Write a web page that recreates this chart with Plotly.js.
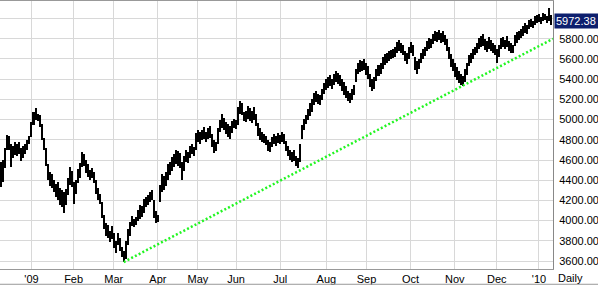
<!DOCTYPE html>
<html>
<head>
<meta charset="utf-8">
<script src="https://cdn.plot.ly/plotly-3.0.1.min.js"></script>
<style>html,body{margin:0;padding:0;background:#fff;}#chart{width:598px;height:286px;}</style>
</head>
<body>
<div id="chart"></div>
<script>
// Daily bars (high / low), Dec 9 2008 .. Jan 12 2010, UK trading days
const high = [
4580,4600,4720,4850,4840,4760,4740,4780,4760,
4780,4720,4740,4760,4800,4840,4980,5080,5115,5060,
5050,4960,4820,4720,4560,4480,4460,4400,4360,4380,
4320,4300,4280,4310,4420,4530,4490,4380,4400,
4510,4570,4680,4660,4600,4560,4500,4520,4480,4400,
4320,4260,4180,4060,3980,3960,3900,3950,3880,3800,
3880,3830,3740,3700,3800,3920,3990,4050,4020,
4040,4110,4150,4140,4210,4230,4250,4280,4300,4200,
4100,4060,4350,4460,4440,4480,4560,4580,4630,4660,
4700,4690,4670,4580,4640,4700,4680,4740,4760,
4730,4870,4900,4880,4900,4930,4880,4920,4940,4860,
4800,4780,4920,5000,5060,5020,4980,4960,4940,4990,
5010,5000,5120,5180,5160,5080,5090,5130,5110,
5090,5120,5060,4970,4920,4880,4860,4840,4800,4780,
4830,4860,4840,4870,4850,4880,4860,4790,4740,4700,
4680,4700,4640,4620,4760,4950,5010,5050,5100,
5160,5200,5260,5280,5250,5240,5300,5360,5400,5420,
5440,5400,5450,5480,5460,5440,5400,5370,5330,5280,
5260,5300,5340,5500,5560,5590,5580,5600,5560,
5530,5450,5400,5420,5500,5540,5560,5620,5650,5660,
5680,5690,5700,5720,5770,5790,5760,5740,5680,5660,
5720,5770,5740,5620,5580,5600,5660,5700,5720,
5780,5810,5800,5850,5880,5870,5890,5860,5880,5840,
5800,5720,5650,5600,5560,5520,5480,5450,5430,5500,
5560,5640,5660,5700,5720,5760,5810,5830,5850,
5800,5780,5820,5790,5760,5740,5700,5740,5810,5820,
5790,5830,5780,5760,5740,5840,5870,5880,5900,5930,
5960,5940,5990,6000,5980,6030,6040,6050,6020,
6060,6050,6030,6100,6040
];
const low = [
4330,4380,4520,4700,4700,4530,4620,4650,4640,
4660,4590,4620,4660,4700,4760,4830,4950,5000,4990,
4930,4800,4700,4540,4400,4340,4320,4280,4230,4200,
4150,4130,4080,4150,4250,4350,4330,4160,4260,
4370,4420,4530,4540,4470,4430,4400,4420,4370,4260,
4200,4160,4030,3920,3850,3830,3790,3820,3730,3680,
3760,3700,3640,3590,3620,3760,3850,3950,3940,
3960,4000,4020,4040,4080,4130,4150,4180,4200,4030,
3980,3990,4180,4280,4300,4340,4400,4450,4490,4530,
4560,4540,4520,4400,4490,4580,4570,4620,4660,
4640,4700,4780,4760,4800,4810,4780,4810,4820,4730,
4670,4690,4760,4880,4920,4900,4860,4830,4810,4870,
4920,4910,4950,5060,5050,4990,4980,5010,4990,
4970,5000,4940,4840,4800,4780,4770,4750,4690,4680,
4730,4760,4740,4770,4760,4780,4760,4690,4640,4600,
4580,4590,4540,4520,4580,4810,4900,4960,5000,
5040,5080,5140,5170,5150,5140,5190,5250,5290,5310,
5330,5300,5340,5370,5350,5330,5280,5240,5210,5180,
5160,5190,5240,5370,5450,5470,5480,5490,5440,
5400,5320,5280,5300,5380,5430,5450,5500,5540,5560,
5580,5600,5610,5620,5660,5680,5660,5640,5580,5550,
5600,5660,5630,5490,5450,5500,5560,5600,5630,
5680,5700,5710,5750,5780,5770,5790,5760,5770,5740,
5680,5600,5520,5480,5420,5390,5360,5340,5330,5370,
5440,5530,5560,5600,5640,5660,5700,5720,5730,
5690,5670,5700,5680,5660,5640,5560,5620,5700,5720,
5700,5720,5680,5660,5660,5730,5760,5790,5810,5830,
5860,5850,5900,5920,5910,5940,5960,5970,5950,
5980,5990,5960,5980,5940
];
const lastClose = 5972.38;
const startDate = '2008-12-09';
const holidays = ['2008-12-25','2008-12-26','2009-01-01','2009-04-10','2009-04-13',
  '2009-05-04','2009-05-25','2009-08-31','2009-12-25','2009-12-28','2010-01-01'];
const monthLabels = ["'09","Feb","Mar","Apr","May","Jun","Jul","Aug","Sep","Oct","Nov","Dec","'10"];
const priceTicks = [3600,3800,4000,4200,4400,4600,4800,5000,5200,5400,5600,5800,6000];
// green support trendline: from the March low to the right edge
const trendIdx = [61, 275];
const trendVal = [3590, 5800];

// trading-day calendar
const dates = [];
{
  const d = new Date(startDate + 'T00:00:00Z');
  while (dates.length < high.length) {
    const s = d.toISOString().slice(0, 10);
    const dow = d.getUTCDay();
    if (dow !== 0 && dow !== 6 && holidays.indexOf(s) < 0) dates.push(s);
    d.setUTCDate(d.getUTCDate() + 1);
  }
}
const idx = dates.map((_, i) => i);
const tickvals = [];
for (let i = 1; i < dates.length; i++) {
  if (dates[i].slice(5, 7) !== dates[i - 1].slice(5, 7)) tickvals.push(i);
}
// the top price label sits under the last-value box, so it is left blank
const priceText = priceTicks.map(v => (Math.abs(v - lastClose) < 100 ? '' : v.toFixed(2)));

const bars = {
  type: 'bar', x: idx, base: low, y: high.map((h, i) => h - low[i]),
  width: 1, marker: {color: '#000000', line: {width: 0}}, hoverinfo: 'skip'
};
const trend = {
  type: 'scatter', mode: 'lines', x: trendIdx, y: trendVal,
  line: {color: '#22f522', width: 2.5, dash: '2px,2.2px'}, hoverinfo: 'skip', cliponaxis: true
};

const font = {family: 'Liberation Sans, Arial, sans-serif', size: 11, color: '#000'};
const layout = {
  width: 598, height: 286,
  margin: {l: 0, r: 45, t: 1, b: 17, pad: 0},
  paper_bgcolor: '#ffffff', plot_bgcolor: '#ffffff',
  showlegend: false, bargap: 0, font: font,
  xaxis: {
    type: 'linear', range: [-0.7, 275], tickvals: tickvals, ticktext: monthLabels,
    showgrid: true, gridcolor: '#d8d8d8', gridwidth: 1, zeroline: false,
    showline: true, linecolor: '#999999', linewidth: 1, mirror: true,
    ticks: '', tickfont: font, fixedrange: true
  },
  yaxis: {
    side: 'right', range: [3521, 6174], tickvals: priceTicks, ticktext: priceText,
    showgrid: true, gridcolor: '#d8d8d8', gridwidth: 1, zeroline: false,
    showline: true, linecolor: '#888888', linewidth: 1,
    ticks: 'outside', ticklen: 3, tickcolor: 'rgba(0,0,0,0)', tickfont: font, fixedrange: true
  },
  shapes: [
    {type: 'line', xref: 'paper', yref: 'paper', x0: 0, x1: 1.09, y0: -0.057, y1: -0.057,
     line: {color: '#999999', width: 1}}
  ],
  annotations: [
    {xref: 'paper', yref: 'y', x: 1, y: lastClose, xanchor: 'left', yanchor: 'middle', xshift: 1,
     text: lastClose.toFixed(2), showarrow: false, bgcolor: '#0d1f6e', borderpad: 1,
     width: 41, height: 12, align: 'left',
     font: {family: 'Liberation Sans, Arial, sans-serif', size: 11, color: '#ffffff'}},
    {xref: 'paper', yref: 'paper', x: 1, y: -0.034, xanchor: 'left', yanchor: 'middle', xshift: 3,
     text: 'Daily', showarrow: false, font: font}
  ]
};
Plotly.newPlot('chart', [bars, trend], layout, {displayModeBar: false, staticPlot: true});
</script>
</body>
</html>
